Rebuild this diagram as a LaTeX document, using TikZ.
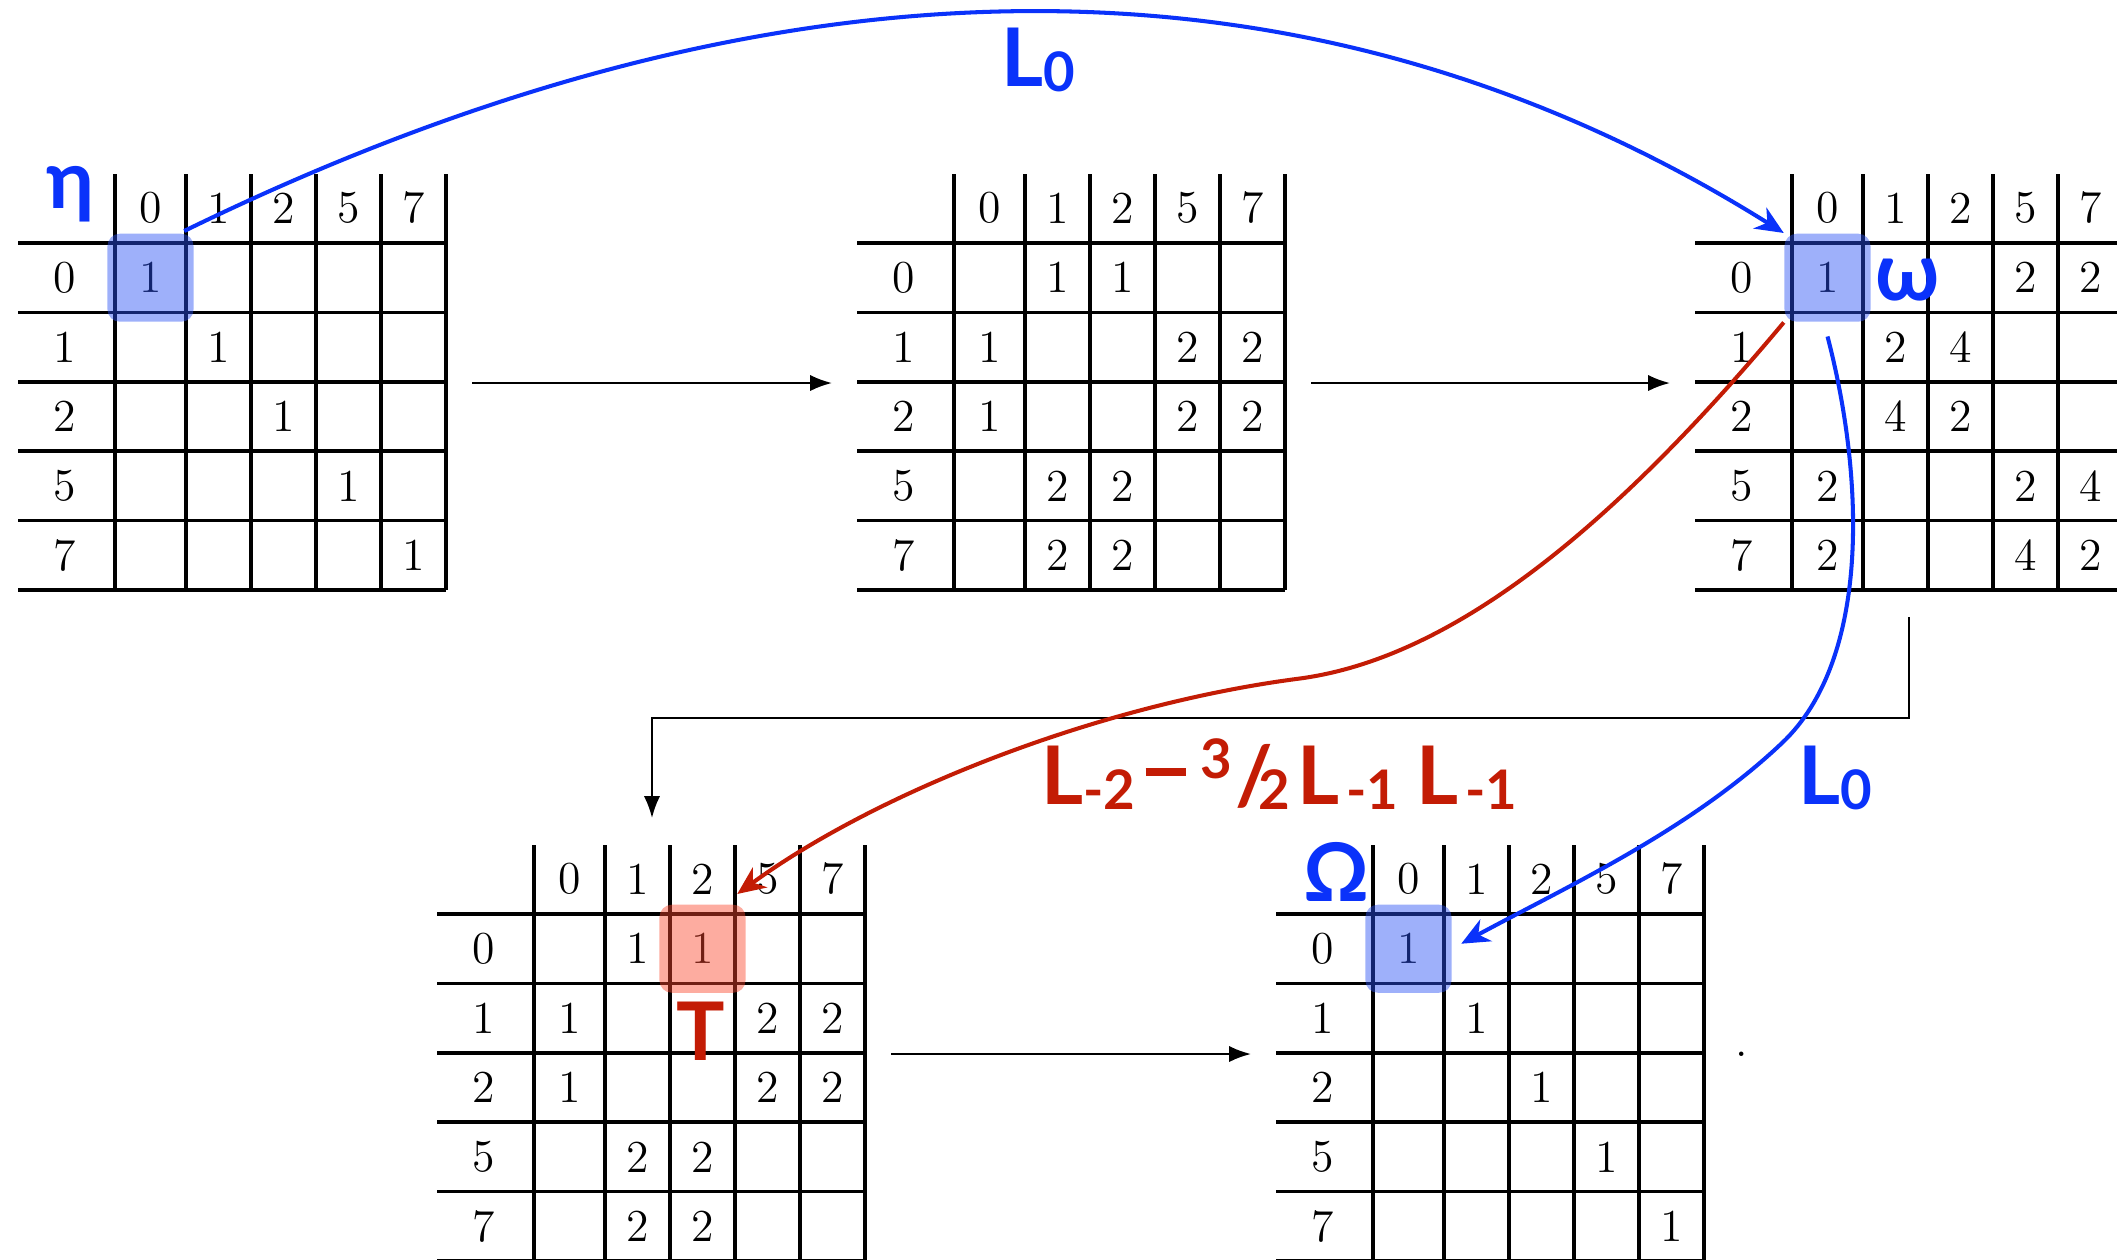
\documentclass[tikz,border=0pt]{standalone}
\usepackage{fontspec}
\usepackage{tikz}
\usetikzlibrary{arrows.meta,calc,positioning}
\newfontfamily\labelfont{Lato}
\definecolor{opblue}{RGB}{10,50,250}
\definecolor{opred}{RGB}{195,28,5}
\definecolor{hlblue}{RGB}{40,80,245}
\definecolor{hlred}{RGB}{250,70,45}
% lowered / raised pieces of the operator labels
\newcommand{\opsub}[1]{\raisebox{-1.6pt}{\fontsize{15.5}{16}\selectfont #1}}
\newcommand{\opsup}[1]{\raisebox{7.4pt}{\fontsize{15.5}{16}\selectfont #1}}
\newcommand{\opminus}{\rule[8pt]{11.5pt}{2.2pt}}
% one character table: #1 name, #2/#3 top-left corner, #4 entries row/col/value
\newcommand{\chartab}[4]{%
  \begin{scope}[shift={(#2,#3)}]
    \foreach \k in {0,...,5}
      \draw[gridline] (0,{69+69.4*\k}) -- (428,{69+69.4*\k});
    \foreach \cx in {97,168,233,298,363,428}
      \draw[gridline] (\cx,0) -- (\cx,416);
    \foreach \v [count=\i from 0] in {0,1,2,5,7}{
      \pgfmathsetmacro{\cx}{135.5+65*\i-3*(\i==0)}
      \node[num] (#1-c\i) at (\cx,34) {\v};
      \node[num] (#1-r\i) at (47,{103.7+69.4*\i}) {\v};
    }
    \foreach \r/\c/\v in {#4}{
      \pgfmathsetmacro{\cx}{135.5+65*\c-3*(\c==0)}
      \node[num] (#1-\r-\c) at (\cx,{103.7+69.4*\r}) {\v};
    }
    \coordinate (#1-in) at (-25,209);
    \coordinate (#1-out) at (454,209);
    \coordinate (#1-down) at (214,443);
    \coordinate (#1-top) at (215,-27);
  \end{scope}
}

\begin{document}
\begin{tikzpicture}[x=0.01cm, y=-0.01cm,
  gridline/.style={line width=1pt},
  num/.style={font=\fontsize{13}{15}\selectfont, inner sep=0pt},
  hlbox/.style={rounded corners=3.5pt, minimum width=0.86cm, minimum height=0.88cm,
    inner sep=0pt, fill=#1, fill opacity=0.45},
  flow/.style={line width=0.6pt, -{Latex[length=6.2pt,width=4.6pt]}},
  bluemap/.style={draw=opblue, line width=1.15pt, -{Stealth[length=8pt,width=7pt,inset=2.5pt]}},
  redmap/.style={draw=opred, line width=1.15pt, -{Stealth[length=8pt,width=7pt,inset=2.5pt]}},
  lbl/.style={font=\labelfont\bfseries\fontsize{23}{27}\selectfont, inner sep=0pt}]
  \useasboundingbox (0,0) rectangle (2117,1259);

  % the five tables
  \chartab{t1}{18}{174}{0/0/1,1/1/1,2/2/1,3/3/1,4/4/1}
  \chartab{t2}{857}{174}{0/1/1,0/2/1,1/0/1,1/3/2,1/4/2,2/0/1,2/3/2,2/4/2,3/1/2,3/2/2,4/1/2,4/2/2}
  \chartab{t3}{1695}{174}{0/0/1,0/3/2,0/4/2,1/1/2,1/2/4,2/1/4,2/2/2,3/0/2,3/3/2,3/4/4,4/0/2,4/3/4,4/4/2}
  \chartab{t4}{437}{845}{0/1/1,0/2/1,1/0/1,1/3/2,1/4/2,2/0/1,2/3/2,2/4/2,3/1/2,3/2/2,4/1/2,4/2/2}
  \chartab{t5}{1276}{845}{0/0/1,1/1/1,2/2/1,3/3/1,4/4/1}

  % highlighted entries
  \node[hlbox=hlblue] (hl1) at (t1-0-0) {};
  \node[hlbox=hlblue] (hl3) at (t3-0-0) {};
  \node[hlbox=hlred] (hl4) at (t4-0-2) {};
  \node[hlbox=hlblue] (hl5) at (t5-0-0) {};

  \node[lbl, text=opblue] (eta) at (70,194) {η};
  \node[lbl, text=opblue] (omega) at (1908,280) {ω};
  \node[lbl, text=opblue] (Omega) at (1336,872) {Ω};
  \node[lbl, text=opred] (tname) at (701,1031) {T};
  \node[num] (enddot) at (1742,1054) {.};

  % steps between the tables
  \draw[flow] (t1-out) -- (t2-in);
  \draw[flow] (t2-out) -- (t3-in);
  \draw[flow] (t3-down) -- ++(0,101) -| (t4-top);
  \draw[flow] (t4-out) -- (t5-in);

  % operators
  \draw[bluemap] ($(hl1.north east)+(-10,-2)$) .. controls (782,-61) and (1314,-61) .. (hl3.north west);
  \node[lbl, text=opblue] (lzero) at (1038,60) {L\opsub{0}};

  \draw[redmap] (hl3.south west) .. controls (1610,530) and (1450,660) .. (1296,679)
    .. controls (1100,705) and (880,790) .. ($(hl4.north east)+(-9,-10)$);
  \node[lbl, text=opred] (redop) at (1279,774)
    {L\opsub{-2}\hspace{3pt}\opminus\hspace{4pt}\opsup{3}\kern1pt/\kern-4pt\opsub{2}\hspace{2pt}L\hspace{2pt}\opsub{-1}\hspace{5pt}L\hspace{2pt}\opsub{-1}};

  \draw[bluemap] ($(hl3.south)+(0,14)$) .. controls (1865,480) and (1870,660) .. (1782,743)
    .. controls (1690,830) and (1570,885) .. ($(hl5.east)+(9,-5)$);
  \node[lbl, text=opblue] (lzerob) at (1835,778) {L\opsub{0}};
\end{tikzpicture}
\end{document}
